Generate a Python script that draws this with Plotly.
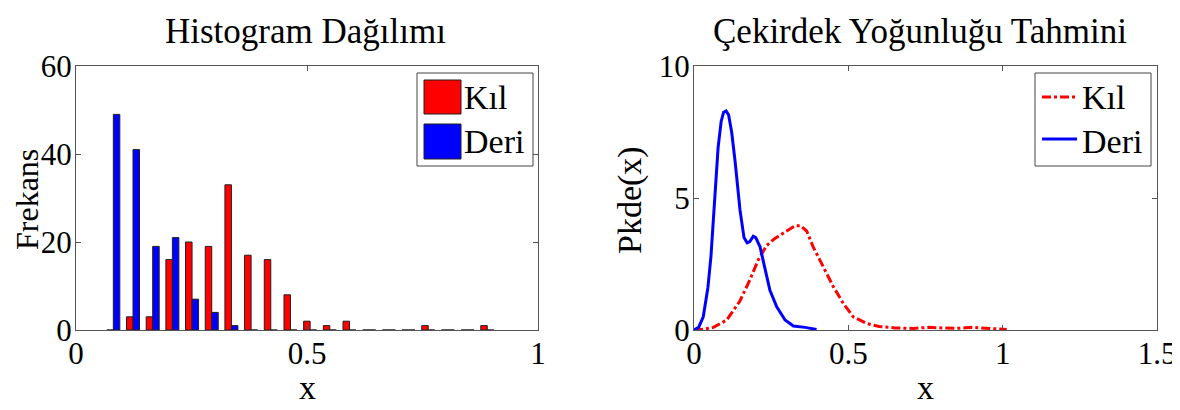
import plotly.graph_objects as go

# ---- histogram data (bin centres and counts) ----
bin_centers = [0.0808 + 0.0426 * k for k in range(20)]
kil_counts = [0, 3, 3, 16, 20, 19, 33, 17, 16, 8, 2, 1, 2, 0, 0, 0, 1, 0, 0, 1]
deri_counts = [49, 41, 19, 21, 7, 4, 1, 0, 0, 0, 0, 0, 0, 0, 0, 0, 0, 0, 0, 0]

# ---- kernel density estimates ----
kde_deri_x = [0, 0.015, 0.03, 0.045, 0.055, 0.068, 0.078, 0.088, 0.096, 0.104, 0.112,
              0.122, 0.133, 0.149, 0.162, 0.172, 0.181, 0.192, 0.2, 0.214, 0.23,
              0.246, 0.268, 0.295, 0.322, 0.36, 0.397]
kde_deri_y = [0, 0.1, 0.5, 1.6, 2.8, 5.3, 6.9, 7.9, 8.25, 8.3, 8.15,
              7.5, 6.4, 4.55, 3.5, 3.3, 3.35, 3.55, 3.5, 3.15, 2.27,
              1.5, 0.88, 0.38, 0.15, 0.1, 0.02]
kde_kil_x = [0, 0.03, 0.063, 0.106, 0.149, 0.181, 0.208, 0.235, 0.26, 0.279, 0.305,
             0.327, 0.345, 0.365, 0.386, 0.419, 0.451, 0.484, 0.516, 0.559, 0.6,
             0.65, 0.71, 0.76, 0.8, 0.85, 0.9, 0.95, 1.013]
kde_kil_y = [0, 0.03, 0.1, 0.38, 1.1, 1.9, 2.65, 3.2, 3.45, 3.6, 3.8,
             3.95, 3.95, 3.75, 3.15, 2.4, 1.65, 1.0, 0.5, 0.25, 0.13,
             0.08, 0.06, 0.1, 0.08, 0.06, 0.1, 0.07, 0.02]

FONT = "Liberation Serif"
FS_TICK = 31
FS_TEXT = 34
FS_TITLE = 35
RED = "#ff0000"
BLUE = "#0000ff"
OFF = 8  # page body margin
W, H = 1180 - OFF, 410 - OFF

fig = go.Figure()

fig.add_trace(go.Bar(x=bin_centers, y=kil_counts, name="Kıl", marker_color=RED,
                     marker_line=dict(color="#202020", width=1),
                     xaxis="x", yaxis="y", showlegend=False))
fig.add_trace(go.Bar(x=bin_centers, y=deri_counts, name="Deri", marker_color=BLUE,
                     marker_line=dict(color="#202020", width=1),
                     xaxis="x", yaxis="y", showlegend=False))

fig.add_trace(go.Scatter(x=kde_kil_x, y=kde_kil_y, mode="lines", name="Kıl",
                         line=dict(color=RED, width=3, dash="dashdot"),
                         xaxis="x2", yaxis="y2", showlegend=False))
fig.add_trace(go.Scatter(x=kde_deri_x, y=kde_deri_y, mode="lines", name="Deri",
                         line=dict(color=BLUE, width=3),
                         xaxis="x2", yaxis="y2", showlegend=False))


# page pixel -> paper fraction
def px_x(p):
    return (p - OFF) / W


def px_y(p):
    return 1 - (p - OFF) / H


axis_common = dict(showgrid=False, zeroline=False, showline=True, linecolor="#555555",
                   linewidth=1, mirror="ticks", ticks="inside", ticklen=5,
                   tickcolor="#555555", automargin=False,
                   tickfont=dict(family=FONT, size=FS_TICK, color="black"))

fig.update_layout(
    width=W, height=H,
    margin=dict(l=0, r=0, t=0, b=0),
    paper_bgcolor="white", plot_bgcolor="white",
    barmode="group", bargap=0.34, bargroupgap=0,
    font=dict(family=FONT, color="black"),
    xaxis=dict(domain=[px_x(76), px_x(538)], range=[0, 1], tickvals=[0, 0.5, 1],
               ticktext=["0", "0.5", "1"], anchor="y", ticklabelstandoff=-4, **axis_common),
    yaxis=dict(domain=[px_y(330), px_y(66)], range=[0, 60], tickvals=[0, 20, 40, 60],
               anchor="x", ticklabelstandoff=-3, **axis_common),
    xaxis2=dict(domain=[px_x(694), px_x(1157)], range=[0, 1.5], tickvals=[0, 0.5, 1, 1.5],
                ticktext=["0", "0.5", "1", "1.5"], anchor="y2", ticklabelstandoff=-4,
                **axis_common),
    yaxis2=dict(domain=[px_y(330), px_y(66)], range=[0, 10], tickvals=[0, 5, 10],
                anchor="x2", ticklabelstandoff=-3, **axis_common),
)

annotations = [
    dict(text="Histogram Dağılımı", x=px_x(305), y=px_y(31), size=FS_TITLE),
    dict(text="Çekirdek Yoğunluğu Tahmini", x=px_x(920), y=px_y(31), size=FS_TITLE),
    dict(text="x", x=px_x(307), y=px_y(387)),
    dict(text="x", x=px_x(925), y=px_y(387)),
    dict(text="Frekans", x=px_x(27), y=px_y(200), textangle=-90, size=32),
    dict(text="Pkde(x)", x=px_x(630), y=px_y(200), textangle=-90),
    # legend texts
    dict(text="Kıl", x=px_x(463), y=px_y(98), xanchor="left"),
    dict(text="Deri", x=px_x(463), y=px_y(142), xanchor="left"),
    dict(text="Kıl", x=px_x(1081), y=px_y(98), xanchor="left"),
    dict(text="Deri", x=px_x(1081), y=px_y(142), xanchor="left"),
]
for a in annotations:
    a.setdefault("xanchor", "center")
    size = a.pop("size", FS_TEXT)
    fig.add_annotation(xref="paper", yref="paper", yanchor="middle", showarrow=False,
                       borderpad=0, font=dict(family=FONT, size=size, color="black"), **a)

shapes = [
    # left legend
    dict(type="rect", x0=px_x(417), x1=px_x(533), y0=px_y(166), y1=px_y(73),
         line=dict(color="#444444", width=1), fillcolor="white", layer="above"),
    dict(type="rect", x0=px_x(424), x1=px_x(461), y0=px_y(114), y1=px_y(80),
         line=dict(color="#202020", width=1), fillcolor=RED, layer="above"),
    dict(type="rect", x0=px_x(424), x1=px_x(461), y0=px_y(159), y1=px_y(124),
         line=dict(color="#202020", width=1), fillcolor=BLUE, layer="above"),
    # right legend
    dict(type="rect", x0=px_x(1035), x1=px_x(1151), y0=px_y(166), y1=px_y(73),
         line=dict(color="#444444", width=1), fillcolor="white", layer="above"),
    dict(type="line", x0=px_x(1042), x1=px_x(1077), y0=px_y(97), y1=px_y(97),
         line=dict(color=RED, width=3, dash="dashdot"), layer="above"),
    dict(type="line", x0=px_x(1042), x1=px_x(1077), y0=px_y(139), y1=px_y(139),
         line=dict(color=BLUE, width=3), layer="above"),
]
for s in shapes:
    fig.add_shape(xref="paper", yref="paper", **s)

fig.write_html("out.html")
